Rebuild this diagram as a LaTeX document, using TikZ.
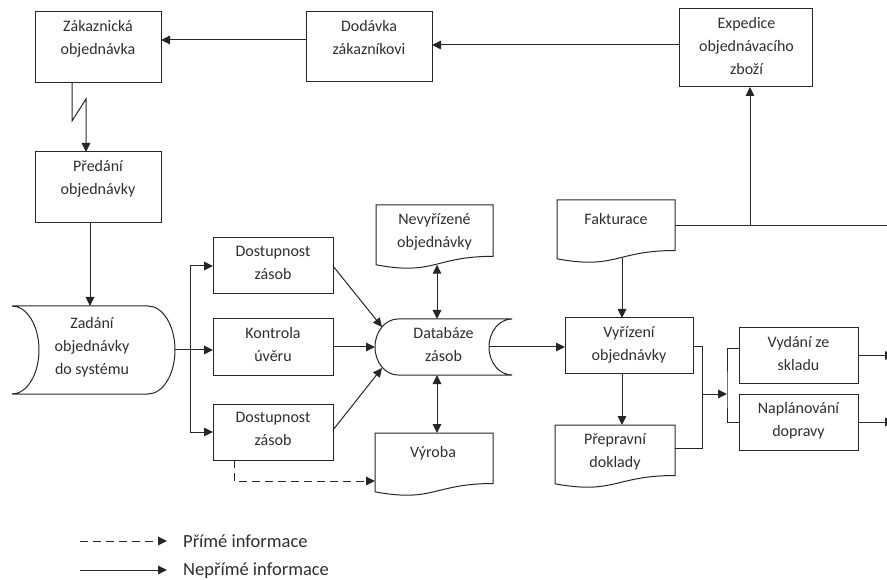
\documentclass[tikz,border=0pt]{standalone}
\usepackage{fontspec}
\setmainfont{Carlito}
\usetikzlibrary{arrows.meta,calc}
\definecolor{lc}{HTML}{262626}
\definecolor{tc}{HTML}{2E2E2E}

% outline of a document symbol (wavy bottom edge) around a holder node
\newcommand\docpath[3]{%
  \draw[edgeline] (#1.north west) -- (#1.north east)
    -- ($(#1.north east)+(0,0.802*#3)$)
    .. controls ($(#1.north west)+(0.5*#2,0.802*#3)$) and ($(#1.north west)+(0.5*#2,1.107*#3)$)
    .. ($(#1.north west)+(0,0.934*#3)$) -- cycle;}

\tikzset{
  edgeline/.style={draw=lc, line width=1pt},
  holder/.style={inner sep=0pt, outer sep=0pt, draw=none},
  flowbox/.style={inner sep=0pt, outer sep=0pt, draw=lc, line width=1pt},
  txt/.style={anchor=north, align=center, inner sep=0pt, text=tc,
    font=\fontsize{16}{23}\selectfont, execute at begin node=\strut},
  legendtxt/.style={anchor=base west, inner sep=0pt, text=tc,
    font=\fontsize{18.5}{22}\selectfont},
  conn/.style={draw=lc, line width=1pt},
  arr/.style={conn, -{Triangle[length=9pt,width=8.5pt]}},
  darr/.style={conn, {Triangle[length=9pt,width=8.5pt]}-{Triangle[length=9pt,width=8.5pt]}},
  dsh/.style={arr, dash pattern=on 8pt off 5pt},
}

\begin{document}
\begin{tikzpicture}[x=1pt,y=-1pt]
\useasboundingbox (0,0) rectangle (887,580);

% rectangular process boxes
\node[flowbox, minimum width=126, minimum height=71] (zak) at (98,47.5) {};
\node[flowbox, minimum width=126, minimum height=70] (dod) at (369,47) {};
\node[flowbox, minimum width=133, minimum height=78] (exp) at (745.5,48) {};
\node[flowbox, minimum width=126, minimum height=71] (pre) at (98,187.5) {};
\node[flowbox, minimum width=120, minimum height=56] (dos1) at (273,266) {};
\node[flowbox, minimum width=120, minimum height=56] (kon) at (273,347) {};
\node[flowbox, minimum width=120, minimum height=56] (dos2) at (273,432) {};
\node[flowbox, minimum width=128, minimum height=55] (vyr) at (629,345.5) {};
\node[flowbox, minimum width=119, minimum height=55] (vyd) at (798.5,355.5) {};
\node[flowbox, minimum width=119, minimum height=56] (nap) at (798.5,422) {};

% document symbols
\node[holder, minimum width=117, minimum height=64] (nev) at (434.5,237) {};
\node[holder, minimum width=118, minimum height=63] (fak) at (616,231.5) {};
\node[holder, minimum width=118, minimum height=63] (vyb) at (434,464.5) {};
\node[holder, minimum width=120, minimum height=63] (pp) at (615,456.5) {};
\docpath{nev}{117}{64}
\docpath{fak}{118}{63}
\docpath{vyb}{118}{63}
\docpath{pp}{120}{63}

% stored-data symbols
\node[holder, minimum width=163, minimum height=88] (zad) at (93.5,350) {};
\node[holder, minimum width=137, minimum height=56] (db) at (443.5,347) {};
\draw[edgeline] (12,306) -- (148,306)
  .. controls (162.9,306) and (175,325.7) .. (175,350)
  .. controls (175,374.3) and (162.9,394) .. (148,394) -- (12,394)
  .. controls (26.9,394) and (39,374.3) .. (39,350)
  .. controls (39,325.7) and (26.9,306) .. (12,306) -- cycle;
\draw[edgeline] (398,319) -- (512,319)
  .. controls (499.3,319) and (489,331.5) .. (489,347)
  .. controls (489,362.5) and (499.3,375) .. (512,375) -- (398,375)
  .. controls (385.3,375) and (375,362.5) .. (375,347)
  .. controls (375,331.5) and (385.3,319) .. (398,319) -- cycle;

% labels
\node[txt] (zakT) at ($(zak.north)+(0,8.4)$) {Zákaznická\\objednávka};
\node[txt] (dodT) at ($(dod.north)+(0,8.4)$) {Dodávka\\zákazníkovi};
\node[txt] (expT) at ($(exp.north)+(1,8.4)$) {Expedice\\objednávacího\\zboží};
\node[txt] (preT) at ($(pre.north)+(0,8.4)$) {Předání\\objednávky};
\node[txt] (dos1T) at ($(dos1.north)+(0,8.4)$) {Dostupnost\\zásob};
\node[txt] (konT) at ($(kon.north)+(0,8.4)$) {Kontrola\\úvěru};
\node[txt] (dos2T) at ($(dos2.north)+(0,8.4)$) {Dostupnost\\zásob};
\node[txt] (vyrT) at ($(vyr.north)+(0,8.4)$) {Vyřízení\\objednávky};
\node[txt] (vydT) at ($(vyd.north)+(0,8.4)$) {Vydání ze\\skladu};
\node[txt] (napT) at ($(nap.north)+(0,8.4)$) {Naplánování\\dopravy};
\node[txt] (nevT) at ($(nev.north)+(0,8.4)$) {Nevyřízené\\objednávky};
\node[txt] (fakT) at ($(fak.north)+(0,8.4)$) {Fakturace};
\node[txt] (vybT) at ($(vyb.north)+(-1,8.4)$) {Výroba};
\node[txt] (ppT) at ($(pp.north)+(0,8.4)$) {Přepravní\\doklady};
\node[txt] (zadT) at ($(zad.north)+(-1.5,11)$) {Zadání\\objednávky\\do systému};
\node[txt] (dbT) at ($(db.north)+(0,8)$) {Databáze\\zásob};

% top row
\coordinate (e1) at ([yshift=3pt]exp.west);
\draw[arr] (e1) -- (e1 -| dod.east);
\coordinate (d1) at ([yshift=7pt]dod.west);
\draw[arr] (d1) -- (d1 -| zak.east);

% zig-zag link to Předání objednávky
\coordinate (z1) at ($(zak.south)+(-26,0)$);
\coordinate (z2) at ($(pre.north)+(-12,-53)$);
\coordinate (z3) at ($(pre.north)+(-12,0)$);
\draw[arr] (z1) -- ++(0,38) -- (z2) -- (z3);

\coordinate (p1) at ($(pre.south)+(-8,0)$);
\draw[arr] (p1) -- (p1 |- zad.north);

% fan-out to the three checks
\coordinate (bx) at (190,0);
\draw[arr] (zad.east) -- (kon.west |- zad.east);
\draw[conn] (bx |- dos1) -- (bx |- dos2);
\draw[arr] (bx |- dos1) -- (dos1.west);
\draw[arr] (bx |- dos2) -- (dos2.west);

% checks into the stock database
\coordinate (dbA) at (382,327);
\coordinate (dbB) at (382,368);
\draw[arr] (dos1.east) -- (dbA);
\draw[arr] (kon.east) -- (db.west);
\draw[arr] ($(dos2.east)+(0,-2)$) -- (dbB);

% database links
\coordinate (nevb) at ($(nev.north west)+(61,59.7)$);
\draw[darr] (nevb) -- (nevb |- db.north);
\draw[darr] (nevb |- db.south) -- (nevb |- vyb.north);
\coordinate (q1) at ($(dos2.south)+(-39,0)$);
\coordinate (vd) at ($(vyb.north west)+(0,48)$);
\draw[dsh] (q1) |- (vd);
\coordinate (dbR) at ($(db.east)+(-23,0)$);
\draw[arr] (dbR) -- (dbR -| vyr.west);

% invoicing and dispatch
\coordinate (f1) at ($(fak.north east)+(0,26)$);
\coordinate (ex) at ($(exp.south)+(4.5,0)$);
\draw[conn] (f1) -- ++(215,0);
\draw[arr] (ex |- f1) -- (ex);
\coordinate (fb) at ($(fak.north west)+(65,58)$);
\draw[arr] (fb) -- (fb |- vyr.north);
\draw[arr] (fb |- vyr.south) -- (fb |- pp.north);

% order processing outputs
\coordinate (jx) at (702,394);
\coordinate (ppR) at ($(pp.north east)+(0,23)$);
\coordinate (b2) at (727,394);
\coordinate (vyS) at ($(vyd.west)+(0,-7)$);
\draw[conn] ($(vyr.east)+(0,1.5)$) -| (ppR -| jx) -- (ppR);
\draw[arr] (jx) -- (b2);
\draw[conn] (vyS) -| (b2) |- (nap.west);
\draw[arr] (vyd.east) -- ++(36,0);
\draw[arr] (nap.east) -- ++(36,0);

% legend
\coordinate (l1) at (80,541);
\coordinate (l2) at (80,570);
\node[legendtxt] (lg1) at (183,547) {Přímé informace};
\node[legendtxt] (lg2) at (183,575.5) {Nepřímé informace};
\draw[dsh] (l1) -- ++(87,0);
\draw[arr] (l2) -- ++(87,0);
\end{tikzpicture}
\end{document}
